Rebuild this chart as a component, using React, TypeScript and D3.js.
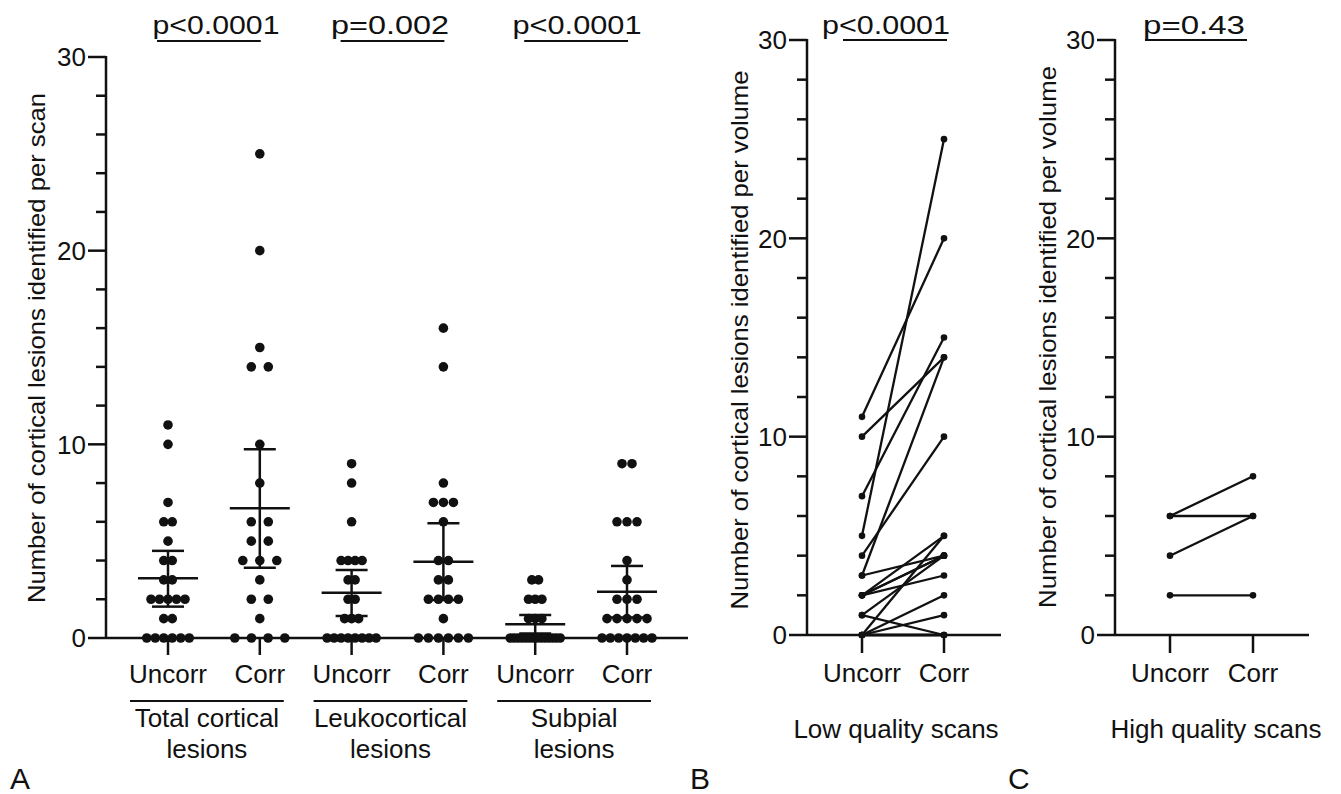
import React from "react";
import * as d3 from "d3";

const W = 1341;
const H = 794;
const FONT = "'Liberation Sans', Arial, Helvetica, sans-serif";
const INK = "#111";

// ---- panel A data (dots per scan) ----
const columns = ["totU", "totC", "leuU", "leuC", "subU", "subC"];
const conditions = ["Uncorr", "Corr"];
const groupNames = [
  ["Total cortical", "lesions"],
  ["Leukocortical", "lesions"],
  ["Subpial", "lesions"],
];
const totalUncorr = [11, 10, 7, 6, 6, 5, 4, 4, 3, 3, 2, 2, 2, 2, 2, 1, 1, 0, 0, 0, 0, 0, 0];
const totalCorr = [25, 20, 15, 14, 14, 10, 8, 6, 6, 5, 5, 4, 4, 4, 3, 2, 2, 1, 0, 0, 0, 0];
const leukoUncorr = [9, 8, 6, 4, 4, 4, 4, 3, 3, 2, 2, 1, 1, 1, 0, 0, 0, 0, 0, 0, 0, 0];
const leukoCorr = [16, 14, 8, 7, 7, 7, 6, 4, 4, 3, 3, 2, 2, 2, 2, 1, 0, 0, 0, 0, 0, 0];
const subpialUncorr = [3, 3, 2, 2, 2, 1, 1, 1, 0, 0, 0, 0, 0, 0, 0, 0, 0, 0, 0, 0, 0, 0];
const subpialCorr = [9, 9, 6, 6, 6, 4, 3, 2, 2, 2, 1, 1, 1, 1, 1, 0, 0, 0, 0, 0, 0, 0];
const columnValues = [totalUncorr, totalCorr, leukoUncorr, leukoCorr, subpialUncorr, subpialCorr];

// mean and 95% CI
const means = [3.08, 6.7, 2.34, 3.94, 0.71, 2.39];
const ciLow = [1.62, 3.63, 1.13, 1.96, 0.23, 1.06];
const ciHigh = [4.5, 9.74, 3.51, 5.92, 1.19, 3.72];
const pValuesA = ["p<0.0001", "p=0.002", "p<0.0001"];

// ---- panel B / C paired data ----
const lowUncorr = [11, 10, 7, 5, 4, 3, 3, 2, 2, 2, 2, 1, 1, 0, 0, 0, 0, 0];
const lowCorr = [20, 14, 15, 25, 10, 14, 4, 5, 4, 3, 4, 0, 4, 5, 2, 1, 0, 0];
const highUncorr = [6, 6, 4, 2];
const highCorr = [8, 6, 6, 2];
const pValueB = "p<0.0001";
const pValueC = "p=0.43";

const majorTicks = [0, 10, 20, 30];
const allTicks = d3.range(0, 31, 2);

// per-column horizontal spread of the scatter
const dotSpacing = [8.5, 17, 7, 10, 6.7, 10];

function swarm(values: number[], spacing: number, maxW: number) {
  const counts = d3.rollup(values, (v) => v.length, (d) => d);
  const seen = new Map<number, number>();
  return values.map((v) => {
    const n = counts.get(v) || 1;
    const i = seen.get(v) || 0;
    seen.set(v, i + 1);
    const s = n > 1 ? Math.min(spacing, maxW / (n - 1)) : 0;
    return { v, dx: (i - (n - 1) / 2) * s };
  });
}

const YAxis = ({ x, y, label, labelX, labelY, labelLen }: any) => (
  <g>
    <line x1={x} x2={x} y1={y(30) - 1} y2={y(0)} stroke={INK} strokeWidth={2.5} />
    {allTicks.map((t) => (
      <line
        key={t}
        x1={x - (t % 10 === 0 ? 18 : 10)}
        x2={x}
        y1={y(t)}
        y2={y(t)}
        stroke={INK}
        strokeWidth={2.5}
      />
    ))}
    {majorTicks.map((t) => (
      <text key={t} x={x - 20} y={y(t)} dy="0.36em" textAnchor="end" fontSize={26} fill={INK}>
        {t}
      </text>
    ))}
    <text
      transform={`translate(${labelX},${labelY}) rotate(-90)`}
      textAnchor="middle"
      fontSize={24}
      fill={INK}
      textLength={labelLen}
      lengthAdjust="spacingAndGlyphs"
    >
      {label}
    </text>
  </g>
);

const PLabel = ({ text, cx, y, len, x1, x2, ly }: any) => (
  <g>
    <text x={cx} y={y} textAnchor="middle" fontSize={26} fill={INK} textLength={len} lengthAdjust="spacingAndGlyphs">
      {text}
    </text>
    <line x1={x1} x2={x2} y1={ly} y2={ly} stroke={INK} strokeWidth={2.2} />
  </g>
);

const PanelA = () => {
  const y = d3.scaleLinear().domain([0, 30]).range([638, 57]);
  const x = d3.scalePoint<string>().domain(columns).range([168, 627]);
  const axisX = 106;
  const pCenters = [216, 390, 577];
  const pLens = [127, 118, 129];
  return (
    <g>
      <YAxis
        x={axisX}
        y={y}
        label="Number of cortical lesions identified per scan"
        labelX={45}
        labelY={348}
        labelLen={510}
      />
      <line x1={axisX} x2={688} y1={y(0)} y2={y(0)} stroke={INK} strokeWidth={2.5} />
      {columns.map((c, i) => (
        <g key={c}>
          <line x1={x(c)} x2={x(c)} y1={y(0)} y2={y(0) + 17} stroke={INK} strokeWidth={2.5} />
          <text x={x(c)} y={683} textAnchor="middle" fontSize={26} fill={INK}>
            {conditions[i % 2]}
          </text>
          {swarm(columnValues[i], dotSpacing[i], 50).map((d, j) => (
            <circle key={j} cx={(x(c) as number) + d.dx} cy={y(d.v)} r={4.8} fill={INK} />
          ))}
          {/* mean and CI */}
          <line x1={(x(c) as number) - 30} x2={(x(c) as number) + 30} y1={y(means[i])} y2={y(means[i])} stroke={INK} strokeWidth={2.5} />
          <line x1={x(c)} x2={x(c)} y1={y(ciLow[i])} y2={y(ciHigh[i])} stroke={INK} strokeWidth={2.5} />
          <line x1={(x(c) as number) - 16} x2={(x(c) as number) + 16} y1={y(ciLow[i])} y2={y(ciLow[i])} stroke={INK} strokeWidth={2.5} />
          <line x1={(x(c) as number) - 16} x2={(x(c) as number) + 16} y1={y(ciHigh[i])} y2={y(ciHigh[i])} stroke={INK} strokeWidth={2.5} />
        </g>
      ))}
      {groupNames.map((g, k) => {
        const xu = x(columns[2 * k]) as number;
        const xc = x(columns[2 * k + 1]) as number;
        const mid = (xu - 38 + xc + 24) / 2;
        return (
          <g key={k}>
            <line x1={xu - 38} x2={xc + 24} y1={701} y2={701} stroke={INK} strokeWidth={2} />
            <text x={mid} y={727} textAnchor="middle" fontSize={26} fill={INK}>
              {g[0]}
            </text>
            <text x={mid} y={758} textAnchor="middle" fontSize={26} fill={INK}>
              {g[1]}
            </text>
            <PLabel
              text={pValuesA[k]}
              cx={pCenters[k]}
              y={34}
              len={pLens[k]}
              x1={xu - 11}
              x2={xc + 1}
              ly={41}
            />
          </g>
        );
      })}
      <text x={10} y={789} fontSize={30} fill={INK}>
        A
      </text>
    </g>
  );
};

const PairedPanel = ({ uncorr, corr, axisX, right, range, pText, pCenter, pLen, pLine, title, titleX, labelX, labelY, labelLen, letter, letterX }: any) => {
  const y = d3.scaleLinear().domain([0, 30]).range([635, 40]);
  const x = d3.scalePoint<string>().domain(conditions).range(range);
  const pairs = uncorr.map((u: number, i: number) => [u, corr[i]]);
  return (
    <g>
      <YAxis
        x={axisX}
        y={y}
        label="Number of cortical lesions identified per volume"
        labelX={labelX}
        labelY={labelY}
        labelLen={labelLen}
      />
      <line x1={axisX} x2={right} y1={y(0)} y2={y(0)} stroke={INK} strokeWidth={2.5} />
      {conditions.map((c) => (
        <g key={c}>
          <line x1={x(c)} x2={x(c)} y1={y(0)} y2={y(0) + 18} stroke={INK} strokeWidth={2.5} />
          <text x={x(c)} y={682} textAnchor="middle" fontSize={26} fill={INK}>
            {c}
          </text>
        </g>
      ))}
      {pairs.map((p: number[], i: number) => (
        <g key={i}>
          <line x1={x("Uncorr")} x2={x("Corr")} y1={y(p[0])} y2={y(p[1])} stroke={INK} strokeWidth={2.3} />
          <circle cx={x("Uncorr")} cy={y(p[0])} r={3.3} fill={INK} />
          <circle cx={x("Corr")} cy={y(p[1])} r={3.3} fill={INK} />
        </g>
      ))}
      <PLabel
        text={pText}
        cx={pCenter}
        y={34}
        len={pLen}
        x1={(x("Uncorr") as number) + pLine[0]}
        x2={(x("Corr") as number) + pLine[1]}
        ly={40}
      />
      <text x={titleX} y={738} textAnchor="middle" fontSize={26} fill={INK}>
        {title}
      </text>
      <text x={letterX} y={789} fontSize={30} fill={INK}>
        {letter}
      </text>
    </g>
  );
};

export default function App() {
  return (
    <svg
      width={W}
      height={H}
      viewBox={`0 0 ${W} ${H}`}
      style={{ position: "absolute", left: 0, top: 0, background: "#fff", fontFamily: FONT }}
    >
      <rect width={W} height={H} fill="#fff" />
      <PanelA />
      <PairedPanel
        uncorr={lowUncorr}
        corr={lowCorr}
        axisX={807}
        right={1001}
        range={[862, 944]}
        pText={pValueB}
        pCenter={886}
        pLen={128}
        pLine={[-19, 3]}
        title="Low quality scans"
        titleX={896}
        labelX={748}
        labelY={340}
        labelLen={539}
        letter="B"
        letterX={690}
      />
      <PairedPanel
        uncorr={highUncorr}
        corr={highCorr}
        axisX={1115}
        right={1309}
        range={[1170, 1253]}
        pText={pValueC}
        pCenter={1194}
        pLen={102}
        pLine={[-25, -6]}
        title="High quality scans"
        titleX={1216}
        labelX={1056}
        labelY={337}
        labelLen={542}
        letter="C"
        letterX={1008}
      />
    </svg>
  );
}
